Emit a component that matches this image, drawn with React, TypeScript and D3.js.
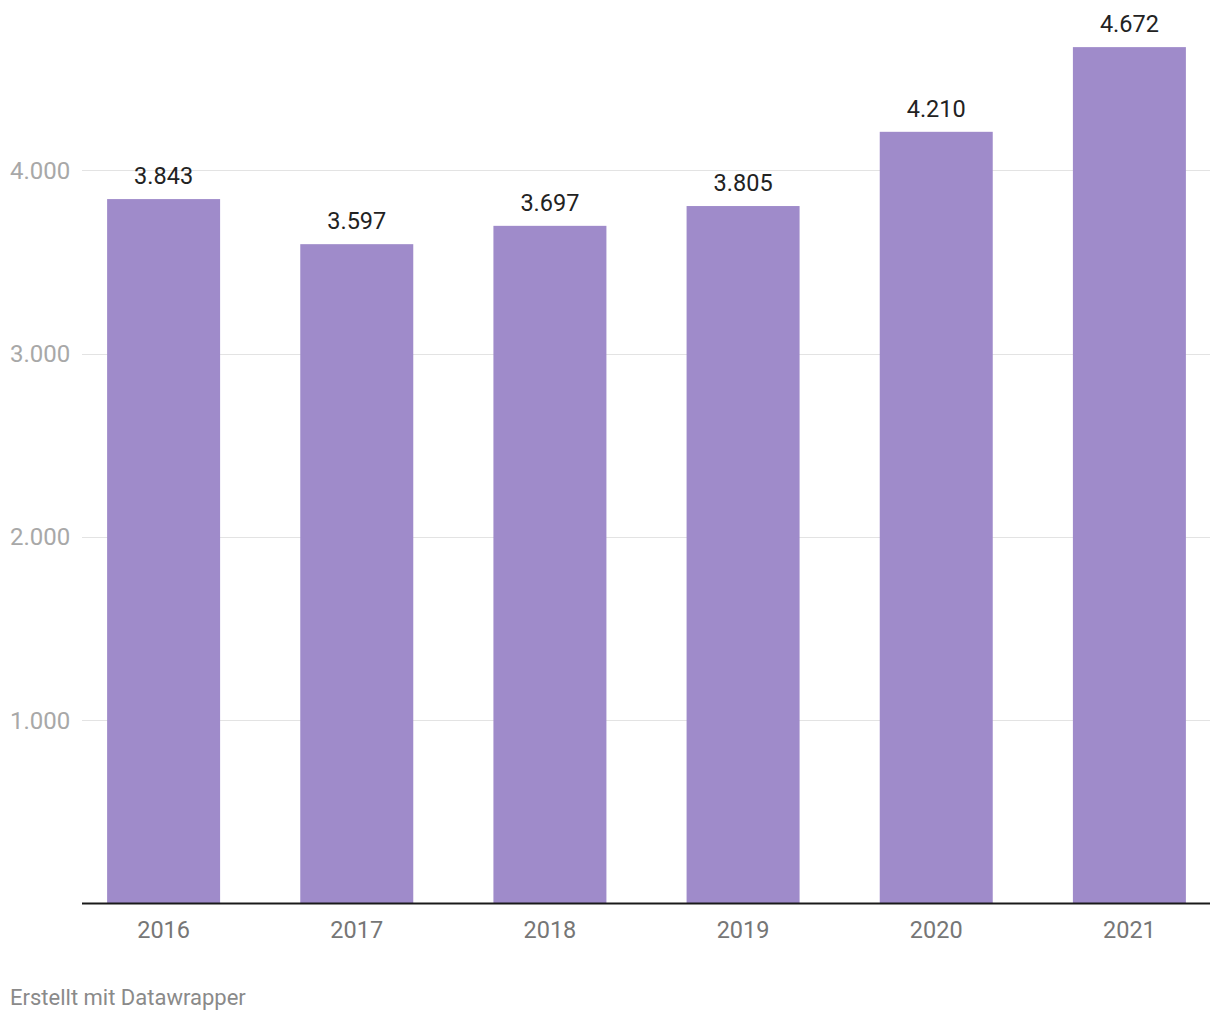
import React from "react";
import * as d3 from "d3";

const years = ["2016", "2017", "2018", "2019", "2020", "2021"];
const values = [3843, 3597, 3697, 3805, 4210, 4672];
const yTicks = [1000, 2000, 3000, 4000];

const W = 1220;
const H = 1020;
const fmt = (v: number) => d3.format(",")(v).replace(/,/g, ".");

export default function App() {
  const x = d3.scaleBand().domain(years).range([82, 1211]).paddingInner(0.415).paddingOuter(0.13);
  const y = d3.scaleLinear().domain([0, 4000]).range([903.5, 170.3]);
  const font = "Roboto, 'Noto Sans', sans-serif";
  return (
    <svg width={W} height={H} style={{ position: "absolute", left: 0, top: 0, background: "#fff" }} fontFamily={font}>
      {yTicks.map((t) => (
        <g key={t}>
          <line x1={82} x2={1210} y1={Math.round(y(t)) + 0.5} y2={Math.round(y(t)) + 0.5} stroke="#e3e3e3" strokeWidth={1} />
          <text x={10} y={y(t)} dy="0.35em" fontSize={24} fill="#a8a8a8">{fmt(t)}</text>
        </g>
      ))}
      {years.map((yr, i) => (
        <g key={yr}>
          <rect x={x(yr)} y={y(values[i])} width={x.bandwidth()} height={y(0) - y(values[i])} fill="#9f8bca" />
          <text x={(x(yr) as number) + x.bandwidth() / 2} y={y(values[i]) - 15} textAnchor="middle" fontSize={23.5} fill="#222">{fmt(values[i])}</text>
          <text x={(x(yr) as number) + x.bandwidth() / 2} y={938} textAnchor="middle" fontSize={23.5} fill="#767676">{yr}</text>
        </g>
      ))}
      <line x1={82} x2={1210} y1={903.5} y2={903.5} stroke="#1a1a1a" strokeWidth={2} />
      <text x={10} y={1004.5} fontSize={22} fill="#8a8a8a">Erstellt mit Datawrapper</text>
    </svg>
  );
}
